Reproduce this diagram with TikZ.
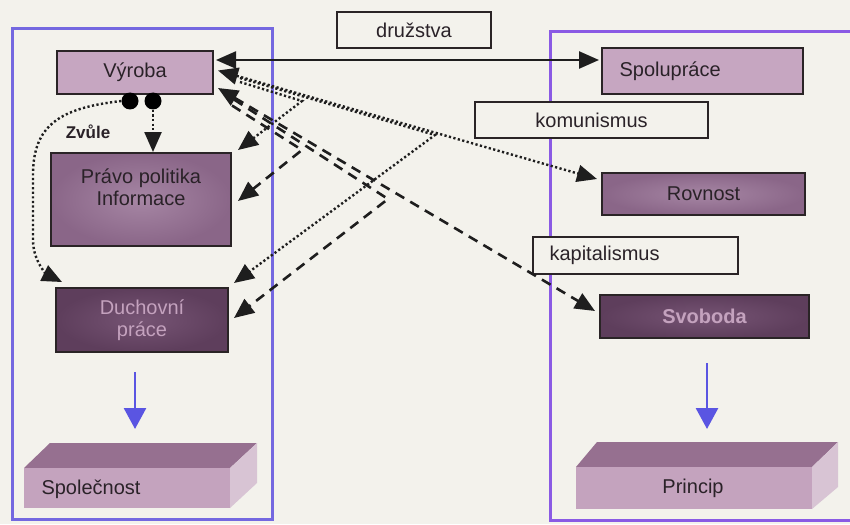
\documentclass[tikz,border=0pt]{standalone}
\usepackage{fontspec}
\setmainfont{Liberation Sans}
\usetikzlibrary{arrows.meta,calc}
\definecolor{bg}{HTML}{F3F2EC}
\definecolor{frameL}{HTML}{7468E0}
\definecolor{frameR}{HTML}{8A5AE4}
\definecolor{boxline}{HTML}{2A2426}
\definecolor{txt}{HTML}{2A2228}
\definecolor{lightc}{HTML}{C6A6C1}
\definecolor{midin}{HTML}{A686A4}
\definecolor{midout}{HTML}{8A6688}
\definecolor{darkin}{HTML}{765474}
\definecolor{darkout}{HTML}{5E3E5C}
\definecolor{pinktxt}{HTML}{C4A2BE}
\definecolor{arr}{HTML}{1E1E1E}
\definecolor{bluea}{HTML}{5A55E2}
\definecolor{slabtop}{HTML}{967090}
\definecolor{slabfront}{HTML}{C4A3BE}
\definecolor{slabside}{HTML}{D8C4D4}
\begin{document}
\begin{tikzpicture}[x=1pt,y=-1pt,
  font=\fontsize{20}{22}\selectfont,
  box/.style={draw=boxline, line width=2pt, inner sep=0pt, text=txt},
  lightbox/.style={box, fill=lightc},
  midbox/.style={box, inner color=midin, outer color=midout},
  darkbox/.style={box, inner color=darkin, outer color=darkout},
  lbl/.style={draw=boxline, line width=1.3pt, fill=bg, inner sep=0pt, text=txt},
  dotl/.style={draw=arr, line width=2.4pt, dash pattern=on 2.2pt off 2.4pt},
  dashl/.style={draw=arr, line width=2.6pt, dash pattern=on 10pt off 7pt},
  solidl/.style={draw=arr, line width=2.4pt},
  >={Triangle[length=20pt,width=17pt]},
  blueline/.style={draw=bluea, line width=2.8pt, -{Triangle[length=21pt,width=22pt]}},
  frame/.style={line width=3pt},
  dotc/.style={circle, fill=black, inner sep=0pt, minimum size=17pt}
]
\useasboundingbox (0,0) rectangle (850,524);
\fill[bg] (0,0) rectangle (850,524);
\clip (0,0) rectangle (850,524);

% frames
\draw[frame, frameL] (12,29) rectangle (272,519);
\draw[frame, frameR] (550,32) rectangle (870,520);

% label boxes
\node[lbl, minimum width=154pt, minimum height=36pt] (druzstva) at (414,30) {družstva};
\node[lbl, minimum width=233pt, minimum height=36pt] (komunismus) at (591.5,120) {komunismus};
\node[lbl, minimum width=205pt, minimum height=37pt] (kapitalismus) at (635.5,255.5) {};
\node[anchor=west, text=txt] (kaptxt) at (546,255.5) {kapitalismus};

% left column
\node[lightbox, minimum width=156pt, minimum height=43pt] (vyroba) at (135,72.5) {Výroba};
\node[midbox, minimum width=180pt, minimum height=93pt] (pravo) at (141,199.5) {};
\node[align=center, text=txt] (pravotxt) at (141,187) {Právo politika\\Informace};
\node[darkbox, minimum width=172pt, minimum height=64pt, align=center, text=pinktxt] (duchovni) at (142,320) {Duchovní\\práce};
\node[dotc] (dot1) at (130,101) {};
\node[dotc] (dot2) at (153,101) {};
\node[text=txt, font=\bfseries\fontsize{17}{19}\selectfont] (zvule) at (88,132) {Zvůle};

% right column
\node[lightbox, minimum width=201pt, minimum height=46pt] (spoluprace) at (702.5,71) {};
\node[anchor=west, text=txt] (spotxt) at (616,71) {Spolupráce};
\node[midbox, minimum width=203pt, minimum height=42pt] (rovnost) at (703.5,194) {Rovnost};
\node[darkbox, minimum width=209pt, minimum height=43pt, text=pinktxt, font=\bfseries\fontsize{20}{22}\selectfont] (svoboda) at (704.5,316.5) {Svoboda};

% slabs
\fill[slabtop] (24,468) -- (50,443) -- (257,443) -- (230,468) -- cycle;
\fill[slabside] (230,468) -- (257,443) -- (257,483) -- (230,508) -- cycle;
\fill[slabfront] (24,468) rectangle (230,508);
\node[anchor=west, text=txt] (spolecnost) at (38,489) {Společnost};

\fill[slabtop] (576,467) -- (597,442) -- (838,442) -- (812,467) -- cycle;
\fill[slabside] (812,467) -- (838,442) -- (838,487) -- (812,509) -- cycle;
\fill[slabfront] (576,467) rectangle (812,509);
\node[text=txt] (princip) at (693,488) {Princip};

% blue arrows
\coordinate (bl1) at (135,372);
\coordinate (bl2) at (135,429);
\coordinate (br1) at (707,363);
\coordinate (br2) at (707,429);
\draw[blueline] (bl1) -- (bl2);
\draw[blueline] (br1) -- (br2);

% junctions
\coordinate (jt1) at (302,101);
\coordinate (jt2) at (435,135);
\coordinate (jd1) at (302,150);
\coordinate (jd2) at (388,199);

% connectors
\draw[solidl,<->] ($(vyroba.east)+(2,-12.5)$) -- ($(spoluprace.west)+(-2,-11)$);

\draw[dotl,<->] ($(vyroba.east)+(4,-2)$) -- ($(rovnost.west)+(-4,-15)$);
\draw[dotl,->] ($(vyroba.east)+(26,5.5)$) -- (jt2) -- ($(duchovni.north east)+(5,-4)$);
\draw[dotl,->] ($(vyroba.east)+(26,9.5)$) -- (jt1) -- ($(pravo.north east)+(6,-2)$);

\draw[dashl,<->] ($(vyroba.east)+(4,15.5)$) -- ($(svoboda.north west)+(-4,17)$);
\draw[dashl,->] ($(vyroba.east)+(20,27)$) -- (jd2) -- ($(duchovni.east)+(5,-2)$);
\draw[dashl,->] ($(vyroba.east)+(18,33)$) -- (jd1) -- ($(pravo.east)+(6,1.5)$);

\draw[dotl,->] (dot2.south) -- (dot2.south |- pravo.north);
\draw[dotl,->] (dot1.west) .. controls (60,108) and (33,125) .. (33,175) -- (33,240) .. controls (33,262) and (48,275) .. ($(duchovni.north west)+(7,-5)$);
\end{tikzpicture}
\end{document}
